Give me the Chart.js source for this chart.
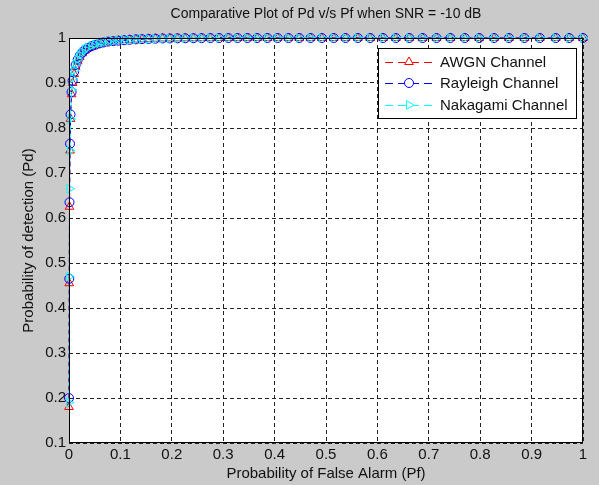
<!DOCTYPE html>
<html>
<head>
<meta charset="utf-8">
<script src="https://cdn.jsdelivr.net/npm/chart.js@4.4.1/dist/chart.umd.min.js"></script>
<style>
  html, body { margin: 0; padding: 0; background: #cacaca; }
  canvas { display: block; }
</style>
</head>
<body>
<canvas id="rocChart" width="599" height="485"></canvas>
<script>
// probability of false alarm (shared x values)
const pf = [0, 0.0005, 0.001, 0.002, 0.003, 0.005, 0.007, 0.01, 0.013, 0.017,
    0.021, 0.026, 0.031, 0.037, 0.044, 0.051, 0.059, 0.067, 0.076, 0.086,
    0.096, 0.107, 0.118, 0.13, 0.142, 0.155, 0.168, 0.182, 0.196, 0.211,
    0.226, 0.242, 0.258, 0.275, 0.292, 0.31, 0.328, 0.347, 0.366, 0.386,
    0.406, 0.427, 0.448, 0.47, 0.492, 0.515, 0.538, 0.562, 0.586, 0.611,
    0.636, 0.662, 0.688, 0.715, 0.742, 0.77, 0.798, 0.827, 0.856, 0.886,
    0.916, 0.947, 0.973, 1.0];

// probability of detection per channel
const pdAwgn = [0.18, 0.455, 0.625, 0.75, 0.82, 0.875, 0.9, 0.92, 0.936, 0.948,
    0.958, 0.966, 0.972, 0.977, 0.981, 0.984, 0.987, 0.989, 0.991, 0.992,
    0.994, 0.995, 0.996, 0.9965, 0.997, 0.998, 0.9985, 0.999, 0.999, 0.9992,
    0.9994, 0.9996, 0.9997, 0.9998, 1, 1, 1, 1, 1, 1,
    1, 1, 1, 1, 1, 1, 1, 1, 1, 1,
    1, 1, 1, 1, 1, 1, 1, 1, 1, 1,
    1, 1, 1, 1];
const pdRayleigh = [0.2, 0.465, 0.635, 0.765, 0.83, 0.88, 0.905, 0.925, 0.94, 0.952,
    0.961, 0.968, 0.974, 0.978, 0.982, 0.985, 0.988, 0.99, 0.992, 0.993,
    0.994, 0.995, 0.996, 0.997, 0.9975, 0.998, 0.9985, 0.999, 0.999, 0.9993,
    0.9995, 0.9996, 0.9997, 0.9998, 1, 1, 1, 1, 1, 1,
    1, 1, 1, 1, 1, 1, 1, 1, 1, 1,
    1, 1, 1, 1, 1, 1, 1, 1, 1, 1,
    1, 1, 1, 1];
const pdNakagami = [0.19, 0.47, 0.665, 0.75, 0.82, 0.885, 0.91, 0.928, 0.942, 0.953,
    0.962, 0.969, 0.975, 0.979, 0.983, 0.986, 0.988, 0.99, 0.992, 0.993,
    0.995, 0.996, 0.996, 0.997, 0.998, 0.998, 0.9985, 0.999, 0.999, 0.9993,
    0.9995, 0.9996, 0.9997, 0.9998, 1, 1, 1, 1, 1, 1,
    1, 1, 1, 1, 1, 1, 1, 1, 1, 1,
    1, 1, 1, 1, 1, 1, 1, 1, 1, 1,
    1, 1, 1, 1];

const seriesNames = ["AWGN Channel", "Rayleigh Channel", "Nakagami Channel"];
const titleText = "Comparative Plot of Pd v/s Pf when SNR = -10 dB";
const xTicks = [0, 0.1, 0.2, 0.3, 0.4, 0.5, 0.6, 0.7, 0.8, 0.9, 1];
const yTicks = [0.1, 0.2, 0.3, 0.4, 0.5, 0.6, 0.7, 0.8, 0.9, 1];

const FONT = "'Liberation Sans', Arial, sans-serif";

function toPoints(ys) {
    return pf.map((x, i) => ({ x: x, y: ys[i] }));
}

const styles = [
    { color: "#ff0000", pointStyle: "triangle", rotation: 0, radius: 5 },
    { color: "#0000ff", pointStyle: "circle", rotation: 0, radius: 4.5 },
    { color: "#00ffff", pointStyle: "triangle", rotation: 90, radius: 5 }
];

const allSeries = [pdAwgn, pdRayleigh, pdNakagami];

const datasets = allSeries.map((ys, i) => ({
    label: seriesNames[i],
    data: toPoints(ys),
    borderColor: styles[i].color,
    borderWidth: 1,
    borderDash: [5, 3],
    pointStyle: styles[i].pointStyle,
    pointRotation: styles[i].rotation,
    pointRadius: styles[i].radius,
    pointBorderColor: styles[i].color,
    pointBackgroundColor: "rgba(0,0,0,0)",
    pointBorderWidth: 1,
    tension: 0,
    clip: false,
    order: 2 - i
}));

// white plot box, frame, title and legend, matlab style
const matlabLook = {
    id: "matlabLook",
    beforeDraw(chart) {
        const { ctx, chartArea: a } = chart;
        ctx.save();
        ctx.fillStyle = "#ffffff";
        ctx.fillRect(a.left, a.top, a.right - a.left, a.bottom - a.top);
        ctx.restore();
    },
    afterDraw(chart) {
        const { ctx, chartArea: a } = chart;
        ctx.save();
        // frame
        ctx.strokeStyle = "#000";
        ctx.lineWidth = 1;
        ctx.setLineDash([]);
        ctx.strokeRect(a.left + 0.5, a.top + 0.5, a.right - a.left - 1, a.bottom - a.top - 1);

        // title
        ctx.fillStyle = "#111";
        ctx.font = "14px " + FONT;
        ctx.textAlign = "center";
        ctx.textBaseline = "middle";
        ctx.fillText(titleText, (a.left + a.right) / 2, 14);

        // legend
        const bx = 378, by = 48, bw = 198, bh = 70;
        ctx.fillStyle = "#ffffff";
        ctx.fillRect(bx, by, bw, bh);
        ctx.strokeStyle = "#000";
        ctx.strokeRect(bx + 0.5, by + 0.5, bw, bh);
        const rows = [62, 83, 105];
        rows.forEach((yy, i) => {
            const s = styles[i];
            ctx.strokeStyle = s.color;
            ctx.lineWidth = 1;
            ctx.setLineDash([8, 5]);
            ctx.beginPath();
            ctx.moveTo(385, yy + 0.5);
            ctx.lineTo(432, yy + 0.5);
            ctx.stroke();
            ctx.setLineDash([]);
            // marker: white inside, coloured outline
            ctx.fillStyle = "#ffffff";
            ctx.strokeStyle = s.color;
            Chart.helpers.drawPoint(ctx, {
                pointStyle: s.pointStyle,
                rotation: s.rotation,
                radius: s.radius,
                borderWidth: 1
            }, 409, yy);
            ctx.fillStyle = "#111";
            ctx.font = "15px " + FONT;
            ctx.textAlign = "left";
            ctx.textBaseline = "middle";
            ctx.fillText(seriesNames[i], 440, yy + 1);
        });
        ctx.restore();
    }
};

const ctx = document.getElementById("rocChart").getContext("2d");
new Chart(ctx, {
    type: "line",
    data: { datasets: datasets },
    options: {
        responsive: false,
        animation: false,
        layout: { padding: { top: 38, right: 16, left: 0, bottom: 0 } },
        plugins: {
            legend: { display: false },
            title: { display: false },
            tooltip: { enabled: false }
        },
        scales: {
            x: {
                type: "linear",
                min: 0,
                max: 1,
                afterFit: function (scale) { scale.height = 42; },
                afterBuildTicks: function (scale) {
                    scale.ticks = xTicks.map(v => ({ value: v }));
                },
                ticks: {
                    color: "#111",
                    padding: 3,
                    maxRotation: 0,
                    font: { family: FONT, size: 15 },
                    callback: v => String(v)
                },
                grid: { color: "#222", drawTicks: false, lineWidth: 1 },
                border: { display: false, dash: [4, 3] },
                title: {
                    display: true,
                    text: "Probability of False Alarm (Pf)",
                    color: "#111",
                    font: { family: FONT, size: 15 },
                    padding: { top: 2, bottom: 2 }
                }
            },
            y: {
                type: "linear",
                min: 0.1,
                max: 1,
                afterFit: function (scale) { scale.width = 69; },
                afterBuildTicks: function (scale) {
                    scale.ticks = yTicks.map(v => ({ value: v }));
                },
                ticks: {
                    color: "#111",
                    padding: 3,
                    font: { family: FONT, size: 15 },
                    callback: v => String(v)
                },
                grid: { color: "#222", drawTicks: false, lineWidth: 1 },
                border: { display: false, dash: [4, 3] },
                title: {
                    display: true,
                    text: "Probability of detection (Pd)",
                    color: "#111",
                    font: { family: FONT, size: 15 },
                    padding: { top: 20, bottom: 0 }
                }
            }
        }
    },
    plugins: [matlabLook]
});
</script>
</body>
</html>
